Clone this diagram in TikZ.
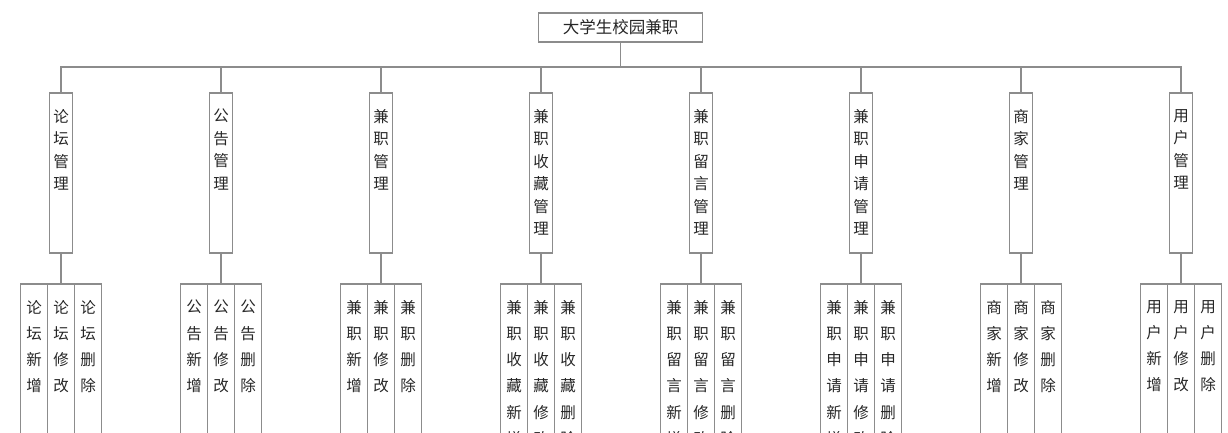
\documentclass[tikz,border=0pt]{standalone}
\usepackage{fontspec}
\newfontfamily\cjk{Noto Sans CJK SC}
\XeTeXlinebreaklocale "zh"
\XeTeXlinebreakskip=0pt plus 1pt
\usetikzlibrary{positioning}

\definecolor{linegray}{HTML}{8C8C8C}
\definecolor{textgray}{HTML}{262626}

\begin{document}
\begin{tikzpicture}
[x=1pt, y=-1pt,
topbox/.style ={rectangle, draw=linegray, line width=1.1pt, outer sep=0pt,
minimum width=164pt, minimum height=29pt,
font=\cjk\fontsize{16.5}{19}\selectfont, text=textgray},
midbox/.style ={rectangle, draw=linegray, line width=1.1pt, outer sep=0pt,
inner sep=0pt, minimum width=23pt, minimum height=160pt, anchor=north},
midtext/.style ={anchor=north, yshift=-16pt, inner sep=0pt,
text width=17pt, align=center,
font=\cjk\fontsize{15.5}{22.5}\selectfont, text=textgray},
leafbox/.style ={rectangle, draw=linegray, line width=1.1pt, outer sep=0pt,
inner sep=0pt, minimum width=27pt, minimum height=200pt,
label={[leaftext]north:#1}},
leaftext/.style ={anchor=north, yshift=-16pt, inner sep=0pt,
text width=17pt, align=center,
font=\cjk\fontsize{15.5}{26.2}\selectfont, text=textgray},
line/.style ={draw=linegray, line width=1.1pt}]
\useasboundingbox (0,0) rectangle (1228,433);
\clip (0,0) rectangle (1228,433);
% top of the tree
\node [topbox] (root) at (620.5,27.5) {大学生校园兼职};
% one column for each module: module box, then its three leaves
\foreach \i/\nm in {1/论坛, 2/公告, 3/兼职, 4/兼职收藏, 5/兼职留言, 6/兼职申请, 7/商家, 8/用户}{
  \node [midbox, label={[midtext]north:\nm 管理}] (m\i) at (61+160*\i-160,93) {};
  \node [leafbox=\nm 修改, below=31pt of m\i] (b\i) {};
  \node [leafbox=\nm 新增, left=0pt of b\i] (a\i) {};
  \node [leafbox=\nm 删除, right=0pt of b\i] (c\i) {};
  \path [line] (root.south) -- ++(0,25) -| (m\i.north);
  \path [line] (m\i) -- (b\i);
}
\end{tikzpicture}
\end{document}
